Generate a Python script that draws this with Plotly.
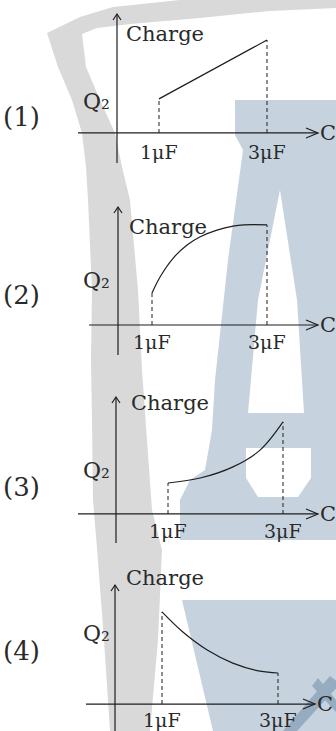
import plotly.graph_objects as go

W, H = 336, 731

# --- data (C in µF, Q2 in arbitrary units) ---
cap_1 = [1, 3]
charge_1 = [1.1, 3.0]
cap_2 = [1, 1.14, 1.37, 1.61, 1.83, 2.13, 2.41, 2.6, 3.0]
charge_2 = [1.03, 1.55, 2.16, 2.58, 2.84, 3.06, 3.19, 3.23, 3.23]
cap_3 = [1, 1.56, 2.13, 2.6, 3.0]
charge_3 = [1.0, 1.16, 1.52, 2.06, 2.97]
cap_4 = [1, 1.36, 1.78, 2.22, 2.69, 3.0]
charge_4 = [2.97, 2.32, 1.74, 1.32, 1.06, 1.0]
option_labels = ["(1)", "(2)", "(3)", "(4)"]
tick_caps = [1, 3]
tick_labels = ["1μF", "3μF"]

series = [(cap_1, charge_1), (cap_2, charge_2), (cap_3, charge_3), (cap_4, charge_4)]

# --- panel placement in pixels ---
PANELS = [
    dict(band=(0, 180), xpx=(159, 267), base=133, yax=117, xstart=78, xtip=318,
         ytop=14, ybot=163, charge=(124, 20), q=(81, 87), opt=(1, 100), tick_y=152),
    dict(band=(180, 365), xpx=(152, 267), base=325, yax=118, xstart=89, xtip=318,
         ytop=207, ybot=355, charge=(127, 213), q=(81, 280), opt=(1, 295), tick_y=342),
    dict(band=(365, 550), xpx=(168, 283), base=514, yax=116, xstart=78, xtip=318,
         ytop=397, ybot=543, charge=(129, 403), q=(81, 470), opt=(1, 487), tick_y=531),
    dict(band=(550, 731), xpx=(162, 278), base=704, yax=115, xstart=86, xtip=315,
         ytop=585, ybot=733, charge=(124, 592), q=(81, 648), opt=(1, 668), tick_y=720),
]
UNIT = 31  # px per charge unit

INK = "#1e1e1e"
TXT = "#2a2a2a"
FONT = "DejaVu Serif"
GREY = "#d9d9d9"
BLUE = "#c6d3df"


def px(x, y):
    return x / W, 1 - y / H


def poly(points, close=True):
    s = ""
    for i, (x, y) in enumerate(points):
        u, v = px(x, y)
        s += ("M" if i == 0 else "L") + f"{u:.4f},{v:.4f} "
    return s + ("Z" if close else "")


def seg(points, width=1.2):
    return dict(type="path", path=poly(points, close=False), xref="paper", yref="paper",
                line=dict(color=INK, width=width), fillcolor="rgba(0,0,0,0)")


fig = go.Figure()
annotations = []
layout_axes = {}
axis_shapes = []

for i, (p, (cx, qy)) in enumerate(zip(PANELS, series)):
    n = "" if i == 0 else str(i + 1)
    xa, ya = "x" + n, "y" + n
    x1, x3 = p["xpx"]
    per = (x3 - x1) / 2

    def c_of(xp, x1=x1, per=per):
        return 1 + (xp - x1) / per

    def q_of(yp, base=p["base"]):
        return (base - yp) / UNIT

    top, bot = p["band"]
    layout_axes["xaxis" + n] = dict(domain=[0, 1], range=[c_of(0), c_of(W)], visible=False,
                                    anchor=ya, fixedrange=True)
    layout_axes["yaxis" + n] = dict(domain=[1 - bot / H, 1 - top / H], range=[q_of(bot), q_of(top)],
                                    visible=False, anchor=xa, fixedrange=True)

    # dashed guides down to the C axis
    for c, q in ((cx[0], qy[0]), (cx[-1], qy[-1])):
        fig.add_trace(go.Scatter(x=[c, c], y=[0, q], mode="lines", xaxis=xa, yaxis=ya,
                                 line=dict(color=INK, width=1, dash="4px,3px"),
                                 hoverinfo="skip", showlegend=False))
    # the curve itself
    fig.add_trace(go.Scatter(x=cx, y=qy, mode="lines", xaxis=xa, yaxis=ya,
                             line=dict(color=INK, width=1.2, shape="spline", smoothing=1.0),
                             showlegend=False))

    # axes with open arrow heads
    b, xt, ya_x, yt = p["base"], p["xtip"], p["yax"], p["ytop"]
    axis_shapes.append(seg([(p["xstart"], b), (xt, b)]))
    axis_shapes.append(seg([(xt - 12, b - 5), (xt, b), (xt - 12, b + 5)]))
    axis_shapes.append(seg([(ya_x, p["ybot"]), (ya_x, yt)]))
    axis_shapes.append(seg([(ya_x - 4, yt + 6), (ya_x, yt), (ya_x + 4, yt + 6)]))

    # tick labels
    for c, t in zip(tick_caps, tick_labels):
        annotations.append(dict(x=c, y=q_of(p["tick_y"]), xref=xa, yref=ya, text=t, showarrow=False,
                                font=dict(family=FONT, size=19, color=TXT)))
    annotations.append(dict(x=c_of(xt), y=0, xref=xa, yref=ya, text="C", showarrow=False,
                            xanchor="left", font=dict(family=FONT, size=21, color=TXT)))

    # texts placed in page coordinates
    u, v = px(*p["charge"])
    annotations.append(dict(x=u, y=v, xref="paper", yref="paper", text="Charge", showarrow=False,
                            xanchor="left", font=dict(family=FONT, size=21, color=TXT)))
    u, v = px(*p["q"])
    annotations.append(dict(x=u, y=v, xref="paper", yref="paper", text="Q₂", showarrow=False,
                            xanchor="left", font=dict(family=FONT, size=22, color=TXT)))
    u, v = px(*p["opt"])
    annotations.append(dict(x=u, y=v, xref="paper", yref="paper", text=option_labels[i], showarrow=False,
                            xanchor="left", font=dict(family=FONT, size=26, color=TXT)))

# faint watermark behind everything
grey_band = [(47, 33), (80, 17), (113, 7), (180, 0), (336, 0), (336, 8), (270, 11), (200, 18),
             (130, 24), (97, 28), (82, 34), (86, 67), (100, 100), (115, 133), (122, 167),
             (130, 200), (138, 290), (142, 370), (147, 440), (152, 510), (162, 550), (158, 640),
             (150, 731), (110, 731), (104, 640), (97, 548), (93, 500), (92, 420), (91, 360),
             (92, 290), (88, 200), (86, 167), (82, 133), (72, 100), (58, 67)]
blue_a = [(235, 100), (336, 100), (336, 540), (180, 540), (180, 500), (190, 480), (205, 470),
          (212, 430), (215, 380), (228, 260), (243, 150), (235, 135)]
hole_a = [(280, 190), (297, 300), (304, 413), (248, 413), (258, 300)]
hole_b = [(246, 448), (311, 448), (311, 478), (298, 497), (258, 497), (246, 478)]
blue_b = [(182, 600), (336, 600), (336, 731), (213, 731)]
wm = dict(xref="paper", yref="paper", line=dict(width=0), layer="below", type="path")
shapes = [
    dict(path=poly(grey_band), fillcolor=GREY, **wm),
    dict(path=poly(blue_a), fillcolor=BLUE, **wm),
    dict(path=poly(hole_a), fillcolor="white", **wm),
    dict(path=poly(hole_b), fillcolor="white", **wm),
    dict(path=poly(blue_b), fillcolor=BLUE, **wm),
    dict(path=poly([(283, 731), (330, 676), (340, 684), (297, 731)]), fillcolor="#97abc1", **wm),
    dict(path=poly([(318, 678), (336, 700), (336, 712), (312, 686)]), fillcolor="#97abc1", **wm),
] + axis_shapes

fig.update_layout(
    width=W, height=H,
    margin=dict(l=0, r=0, t=0, b=0),
    paper_bgcolor="white", plot_bgcolor="rgba(0,0,0,0)",
    showlegend=False,
    annotations=annotations,
    shapes=shapes,
    **layout_axes,
)

fig.write_html("out.html", config=dict(displayModeBar=False),
               post_script="document.body.style.margin='0';document.body.style.overflow='hidden';")
